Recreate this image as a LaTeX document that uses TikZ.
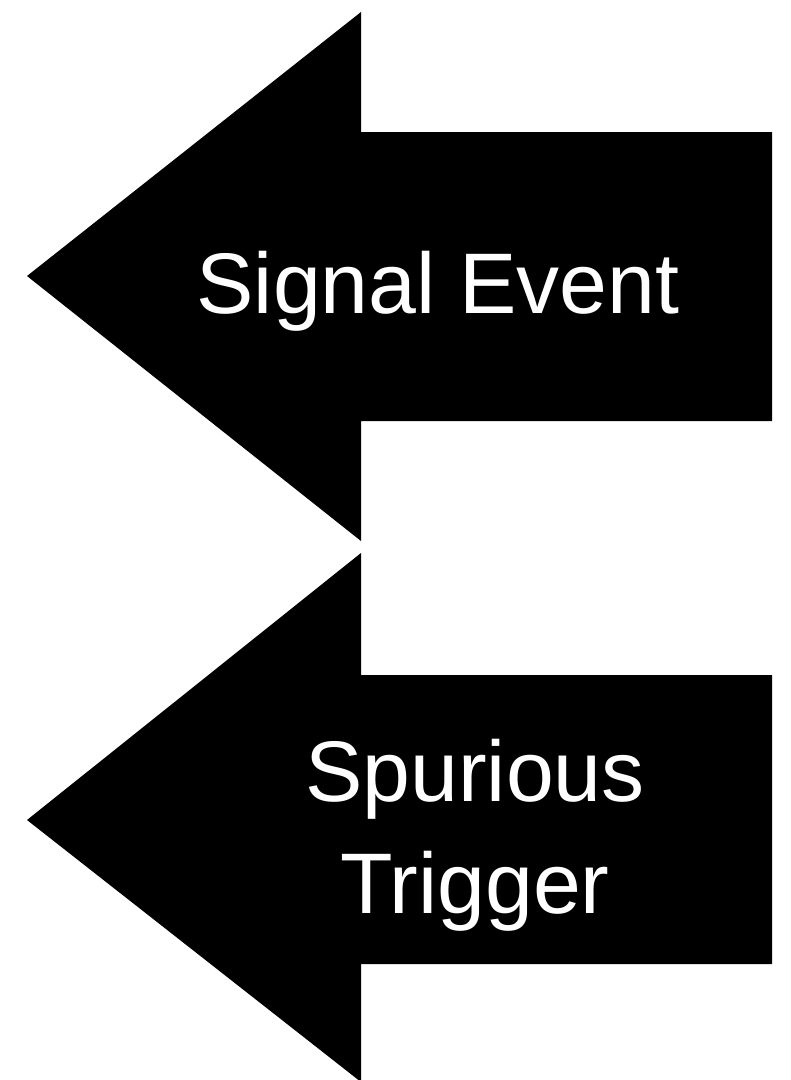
\documentclass[tikz,border=0pt]{standalone}
\usepackage{fontspec}
\setmainfont{Liberation Sans}
\begin{document}
\begin{tikzpicture}[x=1pt,y=-1pt,
  arrowshape/.style={fill=black,draw=none},
  label/.style={text=white,font=\fontsize{86}{112}\selectfont,align=center,inner sep=0pt}]
\useasboundingbox (0,0) rectangle (791,1080);
\fill[white] (0,0) rectangle (791,1080);
% upper arrow
\path[arrowshape] (27,276) -- (361,12) -- (361,132) -- (772,132) -- (772,421) -- (361,421) -- (361,541) -- cycle;
% lower arrow
\path[arrowshape] (27,820) -- (361,553) -- (361,675) -- (772,675) -- (772,964) -- (361,964) -- (361,1082) -- cycle;
\node[label,anchor=base] (sig) at (438,313) {Signal Event};
\node[label,anchor=base] (spu) at (475,801) {Spurious};
\node[label,anchor=base] (trg) at (475,913) {Trigger};
\end{tikzpicture}
\end{document}
